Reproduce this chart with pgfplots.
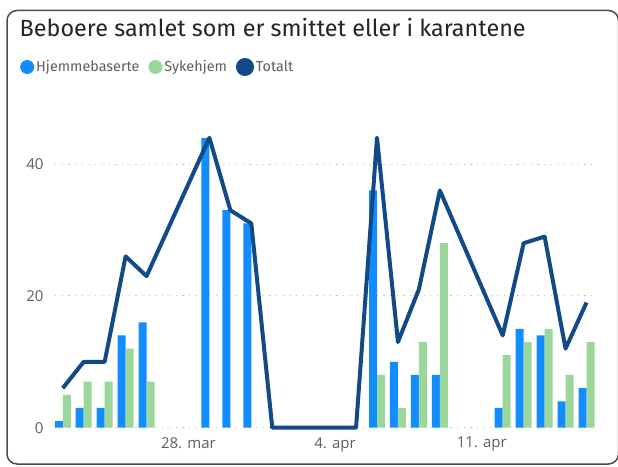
\documentclass[border=0pt]{standalone}
\usepackage{fontspec}
\setmainfont{Fira Sans}
\newfontfamily\tickfont{Open Sans}
\usepackage{pgfplots}
\pgfplotsset{compat=1.18}
\definecolor{hjem}{HTML}{118DFF}
\definecolor{syke}{HTML}{9BD69B}
\definecolor{tot}{HTML}{124A88}
\definecolor{tickc}{HTML}{605E5C}
\definecolor{ttl}{HTML}{252423}
\definecolor{gridc}{HTML}{C8C6C4}
\begin{document}
\begin{tikzpicture}[x=1pt,y=1pt]
\useasboundingbox (0,0) rectangle (618,466);
\draw[line width=1.5pt, color=black!70, rounded corners=10pt] (7,2) rectangle (618.5,455.5);
\node[anchor=base west, font=\fontsize{23.4}{27}\selectfont, text=ttl, inner sep=0pt] at (19.5,429.3) {Beboere samlet som er smittet eller i karantene};
\begin{axis}[
  at={(55pt,38.3pt)}, anchor=south west, scale only axis,
  width=538pt, height=316.3pt,
  xmin=21.63, xmax=47.31, ymin=0, ymax=48,
  axis line style={draw=none}, major tick length=0pt,
  xtick={28,35,42}, xticklabels={28. mar, 4. apr, 11. apr},
  ytick={0,20,40},
  ymajorgrids, grid style={color=gridc, line width=0.9pt, dash pattern=on 1.2pt off 5.5pt},
  tick label style={font=\tickfont\fontsize{15}{17}\selectfont, text=tickc},
  /pgf/number format/assume math mode=true,
  yticklabel style={xshift=-8pt},
  xticklabel style={yshift=-6pt},
  clip=false,
  legend columns=-1,
  legend cell align=left,
  legend style={at={(axis description cs:-0.06506,1.1404)}, anchor=west, draw=none, fill=none, inner sep=0pt,
    font=\fontsize{14.4}{17}\selectfont, text=tickc,
    /tikz/every even column/.append style={column sep=7pt}},
]
\addplot[ybar, bar width=8pt, bar shift=-4pt, fill=hjem, draw=none,
  legend image code/.code={\fill[hjem] (0pt,0pt) circle (7pt);}]
  coordinates {(22,1) (23,3) (24,3) (25,14) (26,16) (29,44) (30,33) (31,31) (37,36) (38,10) (39,8) (40,8) (43,3) (44,15) (45,14) (46,4) (47,6)};
\addlegendentry{Hjemmebaserte}
\addplot[ybar, bar width=8pt, bar shift=4pt, fill=syke, draw=none,
  legend image code/.code={\fill[syke] (0pt,0pt) circle (7pt);}]
  coordinates {(22,5) (23,7) (24,7) (25,12) (26,7) (37,8) (38,3) (39,13) (40,28) (43,11) (44,13) (45,15) (46,8) (47,13)};
\addlegendentry{Sykehjem}
\addplot[color=tot, line width=4pt, line join=round, mark=none,
  legend image code/.code={\fill[tot] (0pt,0pt) circle (7pt);}]
  coordinates {(22,6) (23,10) (24,10) (25,26) (26,23) (29,44) (30,33) (31,31) (32,0) (33,0) (34,0) (35,0) (36,0) (37,44) (38,13) (39,21) (40,36) (43,14) (44,28) (45,29) (46,12) (47,19)};
\addlegendentry{Totalt}
\end{axis}
\end{tikzpicture}
\end{document}
